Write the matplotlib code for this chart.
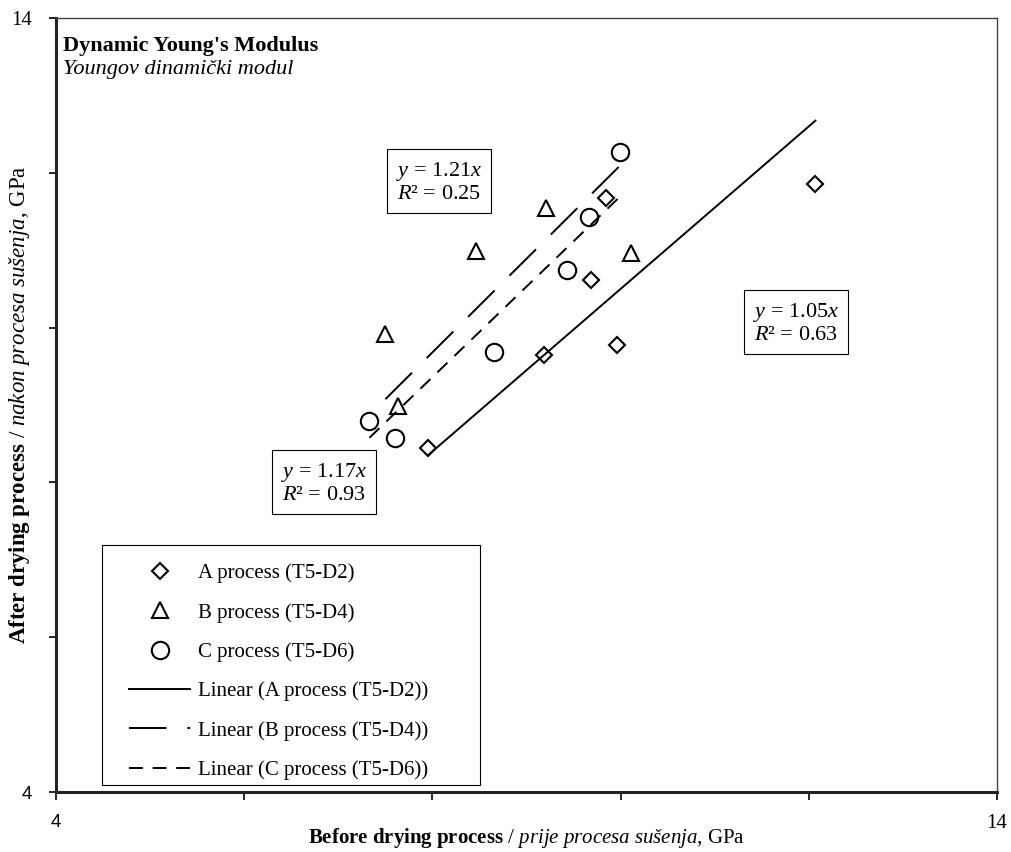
import matplotlib
matplotlib.use("Agg")
import numpy as np
import matplotlib.pyplot as plt
from matplotlib.patches import Rectangle

plt.rcParams['font.family'] = ['Liberation Serif', 'DejaVu Serif']
plt.rcParams['mathtext.fontset'] = 'custom'
plt.rcParams['mathtext.rm'] = 'Liberation Serif'
plt.rcParams['mathtext.it'] = 'Liberation Serif:italic'
plt.rcParams['mathtext.bf'] = 'Liberation Serif:bold'
plt.rcParams['lines.scale_dashes'] = False

# Dynamic Young's modulus, GPa: before (x) and after (y) drying
a_before = [7.95, 9.19, 9.68, 9.84, 9.96, 12.07]
a_after = [8.44, 9.64, 10.62, 11.67, 9.77, 11.85]
b_before = [7.50, 7.63, 8.46, 9.21, 10.11]
b_after = [9.92, 8.99, 10.99, 11.55, 10.96]
c_before = [7.33, 7.60, 8.65, 9.43, 9.66, 9.99]
c_after = [8.79, 8.58, 9.69, 10.74, 11.43, 12.27]

# zero-intercept trend slopes and fit quality
slopes = {"A": 1.05, "B": 1.21, "C": 1.17}
r2 = {"A": 0.63, "B": 0.25, "C": 0.93}

fig = plt.figure(figsize=(10.11, 8.52), dpi=100)
ax = fig.add_axes([0.0554, 0.0704, 0.9308, 0.9085])

mk = dict(linestyle='none', markerfacecolor='white', markeredgecolor='black',
          markeredgewidth=1.5)
pa, = ax.plot(a_before, a_after, marker='D', markersize=8.5, label='A process (T5-D2)', **mk)
pb, = ax.plot(b_before, b_after, marker='^', markersize=12, label='B process (T5-D4)', **mk)
pc, = ax.plot(c_before, c_after, marker='o', markersize=12.5, label='C process (T5-D6)', **mk)

def trend(xs, k):
    xx = np.array([min(xs), max(xs)])
    return xx, k * xx

xa, ya = trend(a_before, slopes["A"])
xb, yb = trend(b_before, slopes["B"])
xc, yc = trend(c_before, slopes["C"])
la, = ax.plot(xa, ya, color='black', lw=1.4, label='Linear (A process (T5-D2))')
lb, = ax.plot(xb, yb, color='black', lw=1.4, dashes=(27, 15),
              label='Linear (B process (T5-D4))')
lc, = ax.plot(xc, yc, color='black', lw=1.4, dashes=(10, 7),
              label='Linear (C process (T5-D6))')

ax.set_xlim(4, 14)
ax.set_ylim(4, 14)
ticks = [4, 6, 8, 10, 12, 14]
tlabels = ['4', '', '', '', '', '14']
ax.set_xticks(ticks, tlabels)
ax.set_yticks(ticks, tlabels)
ax.tick_params(axis='x', direction='out', length=6, width=1.2, pad=10, labelsize=15)
ax.tick_params(axis='y', direction='out', length=5, width=1.2, pad=12, labelsize=15)
for lab in ax.get_xticklabels() + ax.get_yticklabels():
    if lab.get_text() == '4':
        lab.set_family('Liberation Sans')
        lab.set_fontsize(13.5)

for side in ['bottom', 'left']:
    ax.spines[side].set_linewidth(2.2)
    ax.spines[side].set_color('#222222')
for side in ['top', 'right']:
    ax.spines[side].set_linewidth(1.0)
    ax.spines[side].set_color('#444444')

ax.set_xlabel(r'$\mathbf{Before\ drying\ process}$ / $\mathit{prije\ procesa\ sušenja}$, GPa',
              fontsize=15, va='top')
ax.xaxis.set_label_coords(0.5, -0.044)
ax.set_ylabel(r'$\mathbf{After\ drying\ process}$ / $\mathit{nakon\ procesa\ sušenja}$, GPa',
              fontsize=16.5)
ax.yaxis.set_label_coords(-0.025, 0.5)

ax.text(0.0075, 0.964, "Dynamic Young's Modulus", transform=ax.transAxes,
        fontsize=16, fontweight='bold', va='center')
ax.text(0.0075, 0.934, "Youngov dinamički modul", transform=ax.transAxes,
        fontsize=16, style='italic', va='center')

box = dict(boxstyle='square,pad=0.4', facecolor='white', edgecolor='black', lw=0.8)
def eq_label(x, y, key):
    ax.text(x, y, "$y$ = %.2f$x$\n$R$² = %.2f" % (slopes[key], r2[key]),
            fontsize=16, ha='center', va='center', linespacing=1.15, bbox=box)

eq_label(8.07, 11.88, "B")
eq_label(11.86, 10.06, "A")
eq_label(6.85, 7.99, "C")

ax.add_patch(Rectangle((0.049, 0.009), 0.4015, 0.310, transform=ax.transAxes,
                       fill=False, edgecolor='black', lw=0.8, zorder=5))
ax.legend(handles=[pa, pb, pc, la, lb, lc], loc='lower left',
          bbox_to_anchor=(0.078, 0.0155), frameon=False, fontsize=15,
          handlelength=2.9, handletextpad=0.4, labelspacing=0.94,
          borderpad=0, borderaxespad=0)

fig.savefig('out.png', dpi=100)
